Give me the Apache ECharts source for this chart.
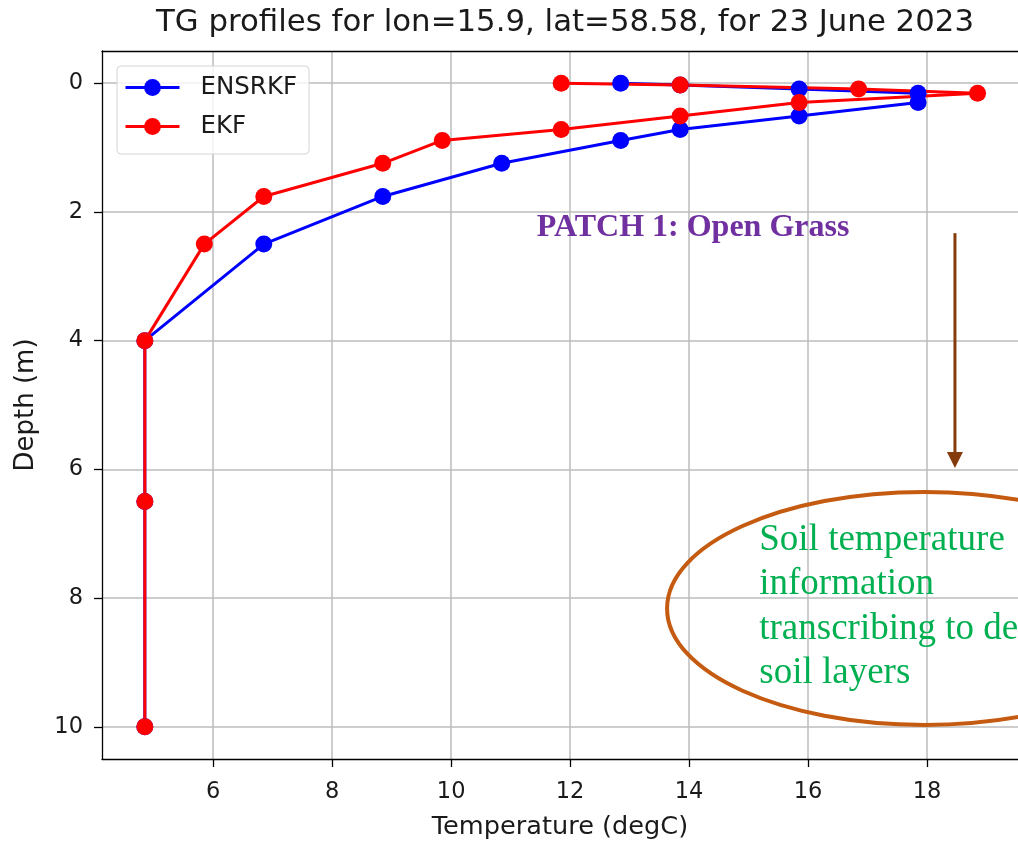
<!DOCTYPE html>
<html>
<head>
<meta charset="utf-8">
<title>TG profiles</title>
<script src="https://cdn.jsdelivr.net/npm/echarts@6/dist/echarts.min.js"></script>
<style>
  html, body { margin: 0; padding: 0; background: #ffffff; }
  #chart { width: 1018px; height: 845px; }
</style>
</head>
<body>
<div id="chart"></div>
<script>
// Soil layer depths (m) and the soil temperature (degC) of each analysis at those depths
const depths     = [0.0, 0.03, 0.09, 0.155, 0.3, 0.51, 0.72, 0.89, 1.245, 1.76, 2.5, 4.0, 6.5, 10.0];
const ensrkfTemp = [12.85, 13.85, 15.85, 17.85, 17.85, 15.85, 13.85, 12.85, 10.85, 8.85, 6.85, 4.85, 4.85, 4.85];
const ekfTemp    = [11.85, 13.85, 16.85, 18.85, 15.85, 13.85, 11.85, 9.85, 8.85, 6.85, 5.85, 4.85, 4.85, 4.85];

const seriesNames = ['ENSRKF', 'EKF'];
const xTicks = [6, 8, 10, 12, 14, 16, 18];
const yTicks = [0, 2, 4, 6, 8, 10];

const titleText = 'TG profiles for lon=15.9, lat=58.58, for 23 June 2023';
const xName = 'Temperature (degC)';
const yName = 'Depth (m)';
const patchLabel = 'PATCH 1: Open Grass';
const noteLines = ['Soil temperature', 'information', 'transcribing to deeper', 'soil layers'];

const SANS = '"DejaVu Sans", sans-serif';
const SERIF = '"Liberation Serif", "DejaVu Serif", serif';
const INK = '#1a1a1a';

const chart = echarts.init(document.getElementById('chart'), null, { renderer: 'canvas' });

const axisLineStyle = { color: '#000000', width: 1.3 };
const gridLineStyle = { color: '#bdbdbd', width: 1.5 };

function profile(temps) {
  return depths.map((d, i) => [temps[i], d]);
}

chart.setOption({
  animation: false,
  title: {
    text: titleText,
    left: 560,
    top: 2,
    textAlign: 'center',
    textStyle: { fontFamily: SANS, fontSize: 30.8, fontWeight: 'normal', color: INK }
  },
  grid: { left: 102, right: 0, top: 51, bottom: 84 },
  legend: {
    data: seriesNames,
    orient: 'vertical',
    left: 117,
    top: 66,
    itemWidth: 54,
    itemHeight: 21,
    itemGap: 14,
    padding: [9, 12, 15, 7],
    borderColor: '#d4d4d4',
    borderWidth: 1,
    borderRadius: 4,
    backgroundColor: 'rgba(255,255,255,0.8)',
    lineStyle: { width: 3 },
    textStyle: { fontFamily: SANS, fontSize: 24.5, color: INK, lineHeight: 21, padding: [0, 0, 0, 16] }
  },
  xAxis: [
    {
      type: 'value',
      position: 'bottom',
      min: 4.13,
      max: 19.53,
      name: xName,
      nameLocation: 'middle',
      nameGap: 55,
      nameTextStyle: { fontFamily: SANS, fontSize: 25.6, color: INK },
      axisLine: { show: true, onZero: false, lineStyle: axisLineStyle },
      axisTick: { show: true, length: 8, customValues: xTicks, lineStyle: axisLineStyle },
      axisLabel: { customValues: xTicks, margin: 22, fontFamily: SANS, fontSize: 22.5, color: INK },
      splitLine: { show: true, lineStyle: gridLineStyle }
    },
    {
      // top frame of the plot area
      type: 'value',
      position: 'top',
      min: 4.13,
      max: 19.53,
      axisLine: { show: true, onZero: false, lineStyle: axisLineStyle },
      axisTick: { show: false },
      axisLabel: { show: false },
      splitLine: { show: false }
    }
  ],
  yAxis: {
    type: 'value',
    inverse: true,
    min: -0.5,
    max: 10.5,
    name: yName,
    nameLocation: 'middle',
    nameGap: 63,
    nameTextStyle: { fontFamily: SANS, fontSize: 26, color: INK },
    axisLine: { show: true, onZero: false, lineStyle: axisLineStyle },
    axisTick: { show: true, length: 8, customValues: yTicks, lineStyle: axisLineStyle },
    axisLabel: { customValues: yTicks, margin: 19, fontFamily: SANS, fontSize: 22.5, color: INK },
    splitLine: { show: true, lineStyle: gridLineStyle }
  },
  series: [
    {
      name: seriesNames[0],
      type: 'line',
      data: profile(ensrkfTemp),
      symbol: 'circle',
      symbolSize: 17,
      showSymbol: true,
      lineStyle: { color: '#0000ff', width: 3 },
      itemStyle: { color: '#0000ff' },
      emphasis: { disabled: true }
    },
    {
      name: seriesNames[1],
      type: 'line',
      data: profile(ekfTemp),
      symbol: 'circle',
      symbolSize: 17,
      showSymbol: true,
      lineStyle: { color: '#ff0000', width: 3 },
      itemStyle: { color: '#ff0000' },
      emphasis: { disabled: true }
    }
  ]
});

// Annotations placed in data coordinates (temperature, depth)
const toPx = (t, d) => chart.convertToPixel({ seriesIndex: 0 }, [t, d]);

const patchFont = 32;
const patchAt = toPx(11.44, 2.42);

const arrowTop = toPx(18.47, 2.33);
const arrowTip = toPx(18.47, 5.98);
const headLen = 16, headHalf = 8;

const ellC = toPx(17.96, 8.16);
const ellE = toPx(17.96 + 4.33, 8.16 + 1.81);

const noteFont = 37, noteLead = 44.5;
const noteAt = toPx(15.18, 7.29);

chart.setOption({
  graphic: [
    {
      type: 'text',
      x: patchAt[0],
      y: patchAt[1] - 0.34 * patchFont,
      style: {
        text: patchLabel,
        font: 'bold ' + patchFont + 'px ' + SERIF,
        fill: '#7030a0',
        align: 'left',
        verticalAlign: 'middle'
      },
      z: 100
    },
    {
      type: 'line',
      shape: { x1: arrowTop[0], y1: arrowTop[1], x2: arrowTip[0], y2: arrowTip[1] - headLen + 2 },
      style: { stroke: '#843c0c', lineWidth: 3 },
      z: 100
    },
    {
      type: 'polygon',
      shape: {
        points: [
          [arrowTip[0] - headHalf, arrowTip[1] - headLen],
          [arrowTip[0] + headHalf, arrowTip[1] - headLen],
          [arrowTip[0], arrowTip[1]]
        ]
      },
      style: { fill: '#843c0c' },
      z: 100
    },
    {
      type: 'ellipse',
      shape: { cx: ellC[0], cy: ellC[1], rx: ellE[0] - ellC[0], ry: ellE[1] - ellC[1] },
      style: { fill: null, stroke: '#c55a11', lineWidth: 4 },
      z: 100
    },
    {
      type: 'text',
      x: noteAt[0],
      y: noteAt[1] - 0.34 * noteFont - noteLead / 2,
      style: {
        text: noteLines.join('\n'),
        font: noteFont + 'px ' + SERIF,
        lineHeight: noteLead,
        fill: '#00b050',
        align: 'left',
        verticalAlign: 'top'
      },
      z: 100
    }
  ]
});
</script>
</body>
</html>
